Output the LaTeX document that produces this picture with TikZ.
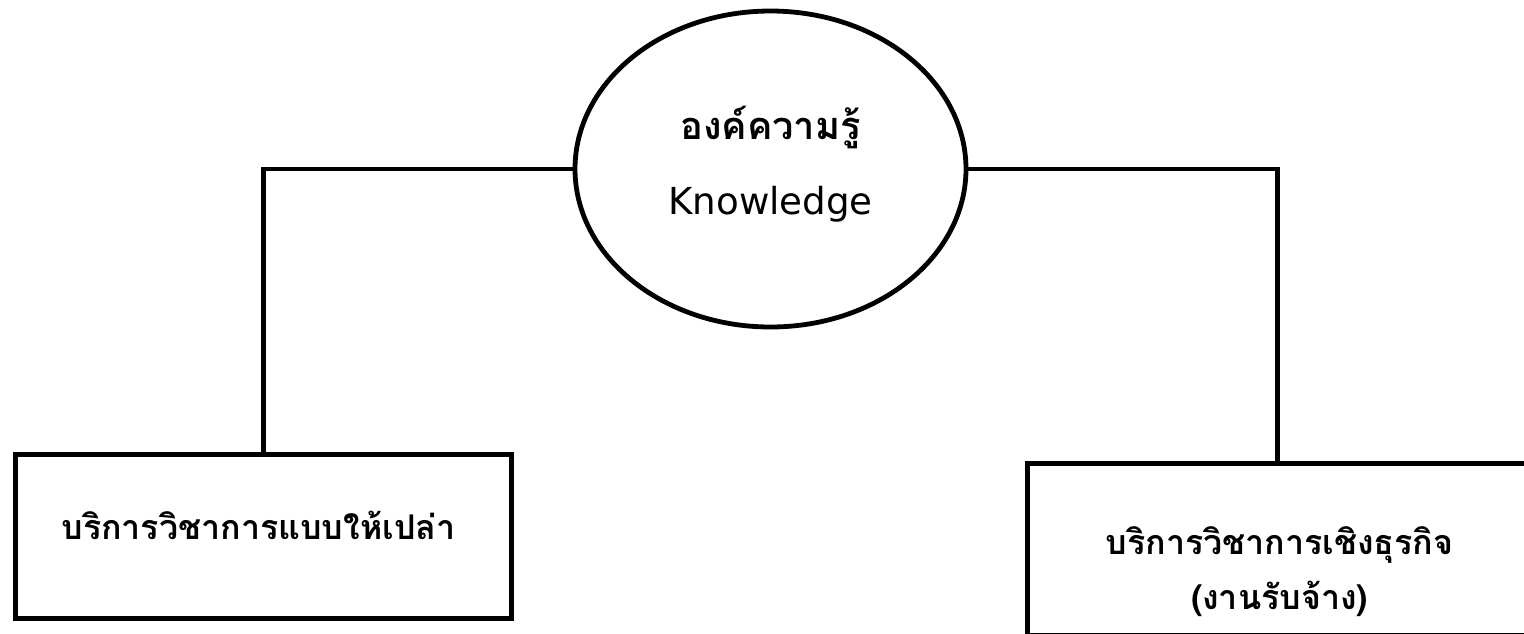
\documentclass[tikz,border=0pt]{standalone}
\usepackage{fontspec}
\setmainfont[Script=Thai]{Loma}
\newfontfamily\latinfont{DejaVu Sans}
\usetikzlibrary{shapes.geometric}
\begin{document}
\begin{tikzpicture}[x=0.5pt,y=-0.5pt,
  shape line/.style={draw=black,line width=2.4pt},
  lbl/.style={font=\fontsize{17pt}{20pt}\selectfont\bfseries,inner sep=0pt,anchor=base},
  conn/.style={draw=black,line width=2.2pt}]
\useasboundingbox (0,0) rectangle (1524,633);
\clip (0,0) rectangle (1524,633);
\node[shape line,ellipse,inner sep=0pt,minimum width=195.5pt,minimum height=158pt] (k) at (770.5,169) {};
\node[lbl,font=\fontsize{19pt}{20pt}\selectfont\bfseries] (kt1) at (770.5,139) {องค์ความรู้};
\node[lbl,font=\fontsize{18.6pt}{20pt}\latinfont] (kt2) at (770.5,214) {Knowledge};
\node[shape line,rectangle,inner sep=0pt,minimum width=248pt,minimum height=82pt] (lb) at (263.5,536.5) {};
\node[lbl] (lt) at (258.5,539) {บริการวิชาการแบบให้เปล่า};
\node[shape line,rectangle,inner sep=0pt,minimum width=250pt,minimum height=86pt] (rb) at (1277.5,549.5) {};
\node[lbl] (rt1) at (1279.5,554) {บริการวิชาการเชิงธุรกิจ};
\node[lbl] (rt2) at (1279.5,609) {(งานรับจ้าง)};
\draw[conn] (k.west) -| (lb.north);
\draw[conn] (k.east) -| (rb.north);
\end{tikzpicture}
\end{document}
